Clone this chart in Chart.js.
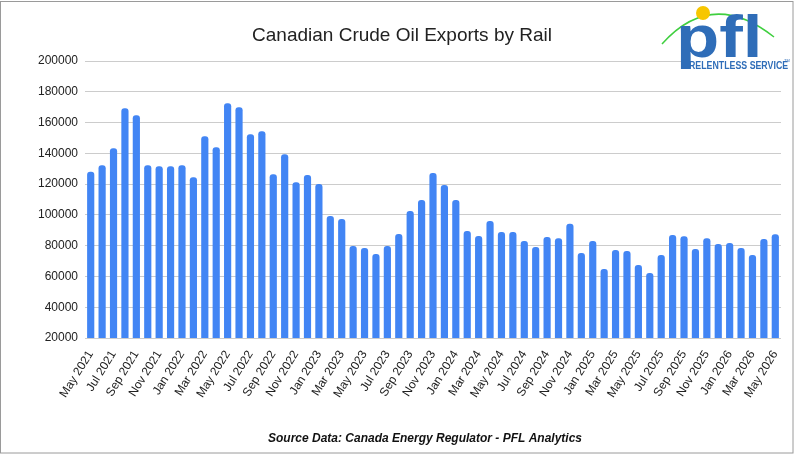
<!DOCTYPE html>
<html>
<head>
<meta charset="utf-8">
<title>Canadian Crude Oil Exports by Rail</title>
<script src="https://cdn.jsdelivr.net/npm/chart.js@4/dist/chart.umd.min.js"></script>
<style>
  html, body { margin: 0; padding: 0; background: #fff; }
  #wrap { width: 796px; height: 456px; }
</style>
</head>
<body>
<div id="wrap"><canvas id="rail_chart" width="796" height="456"></canvas></div>
<script>
// months shown on the x axis
const months = [
  'May 2021', 'Jun 2021', 'Jul 2021', 'Aug 2021', 'Sep 2021', 'Oct 2021', 'Nov 2021', 'Dec 2021',
  'Jan 2022', 'Feb 2022', 'Mar 2022', 'Apr 2022', 'May 2022', 'Jun 2022', 'Jul 2022', 'Aug 2022',
  'Sep 2022', 'Oct 2022', 'Nov 2022', 'Dec 2022', 'Jan 2023', 'Feb 2023', 'Mar 2023', 'Apr 2023',
  'May 2023', 'Jun 2023', 'Jul 2023', 'Aug 2023', 'Sep 2023', 'Oct 2023', 'Nov 2023', 'Dec 2023',
  'Jan 2024', 'Feb 2024', 'Mar 2024', 'Apr 2024', 'May 2024', 'Jun 2024', 'Jul 2024', 'Aug 2024',
  'Sep 2024', 'Oct 2024', 'Nov 2024', 'Dec 2024', 'Jan 2025', 'Feb 2025', 'Mar 2025', 'Apr 2025',
  'May 2025', 'Jun 2025', 'Jul 2025', 'Aug 2025', 'Sep 2025', 'Oct 2025', 'Nov 2025', 'Dec 2025',
  'Jan 2026', 'Feb 2026', 'Mar 2026', 'Apr 2026', 'May 2026'
];

// barrels per day
const exports = [
  128000, 132300, 143300, 169300, 164700, 132300, 131600, 131600,
  132300, 124500, 151100, 144000, 172500, 169900, 152400, 154400,
  126400, 139400, 121200, 125900, 120000, 99300, 97300, 79800,
  78500, 74600, 79800, 87600, 102500, 109700, 127200, 119400,
  109700, 89500, 86300, 96000, 88900, 88900, 83000, 79100,
  85600, 84900, 94300, 75200, 83000, 64800, 77200, 76500,
  67400, 62200, 73900, 86900, 86200, 77800, 84900, 81100,
  81700, 78500, 73900, 84300, 87500
];

const yMin = 20000;
const yMax = 200000;
const yStep = 20000;

const titleText = 'Canadian Crude Oil Exports by Rail';
const sourceText = 'Source Data: Canada Energy Regulator - PFL Analytics';

// frame, title, source line and the pfl logo
const decorations = {
  id: 'decorations',
  beforeDraw(chart) {
    const c = chart.ctx;
    c.save();
    c.fillStyle = '#fff';
    c.fillRect(0, 0, chart.width, chart.height);
    c.restore();
  },
  afterDraw(chart) {
    const c = chart.ctx;
    c.save();
    // outer frame
    c.strokeStyle = '#9a9a9a';
    c.lineWidth = 1;
    c.strokeRect(0.5, 1.5, 792.5, 451.5);

    // title
    c.fillStyle = '#222';
    c.font = '19px "Liberation Sans", Arial, sans-serif';
    c.textAlign = 'center';
    c.textBaseline = 'middle';
    c.fillText(titleText, 402, 36);

    // source line
    c.font = 'italic bold 12px "Liberation Sans", Arial, sans-serif';
    c.fillStyle = '#111';
    c.fillText(sourceText, 425, 439);

    // logo
    c.fillStyle = '#fff';
    c.fillRect(686, 54, 100, 16);
    c.strokeStyle = '#3fcf3f';
    c.lineWidth = 1.5;
    c.beginPath();
    c.moveTo(662, 44);
    c.quadraticCurveTo(712, -12, 774, 37);
    c.stroke();
    c.fillStyle = '#2f6db8';
    c.textAlign = 'left';
    c.textBaseline = 'alphabetic';
    c.save();
    c.translate(676, 57);
    c.scale(1.18, 1);
    c.font = 'bold 60px "Liberation Sans", Arial, sans-serif';
    c.fillText('pfl', 0, 0);
    c.restore();
    c.fillStyle = '#f7c600';
    c.beginPath();
    c.arc(703, 13, 7, 0, Math.PI * 2);
    c.fill();
    c.fillStyle = '#2f6db8';
    c.save();
    c.translate(689, 68.5);
    c.scale(0.8, 1);
    c.font = 'bold 11px "Liberation Sans", Arial, sans-serif';
    c.fillText('RELENTLESS SERVICE', 0, 0);
    c.restore();
    c.font = '4px "Liberation Sans", Arial, sans-serif';
    c.fillText('TM', 784, 62);
    c.restore();
  }
};

const ctx = document.getElementById('rail_chart');
const railChart = new Chart(ctx, {
  type: 'bar',
  data: {
    labels: months,
    datasets: [{
      label: 'Exports',
      data: exports,
      backgroundColor: '#4285f4',
      borderWidth: 0,
      borderRadius: { topLeft: 3, topRight: 3 },
      borderSkipped: 'bottom',
      barPercentage: 0.63,
      categoryPercentage: 1.0
    }]
  },
  options: {
    responsive: false,
    animation: false,
    devicePixelRatio: 1,
    layout: { padding: { top: 61, right: 15, bottom: 0, left: 0 } },
    plugins: {
      legend: { display: false },
      title: { display: false },
      tooltip: { enabled: false }
    },
    scales: {
      x: {
        offset: true,
        grid: { display: false },
        border: { display: false },
        ticks: {
          autoSkip: false,
          maxRotation: 58,
          minRotation: 58,
          padding: 2,
          color: '#222',
          font: { family: '"Liberation Sans", Arial, sans-serif', size: 12 },
          callback: function (val, i) {
            return i % 2 === 0 ? this.getLabelForValue(val) : '';
          }
        },
        afterFit: function (scale) { scale.height = 118; }
      },
      y: {
        min: yMin,
        max: yMax,
        grid: { color: '#cccccc', drawTicks: false },
        border: { display: false },
        ticks: {
          stepSize: yStep,
          padding: 7,
          color: '#222',
          font: { family: '"Liberation Sans", Arial, sans-serif', size: 12 },
          callback: function (val) { return String(val); }
        },
        afterFit: function (scale) { scale.width = 85; }
      }
    }
  },
  plugins: [decorations]
});
</script>
</body>
</html>
